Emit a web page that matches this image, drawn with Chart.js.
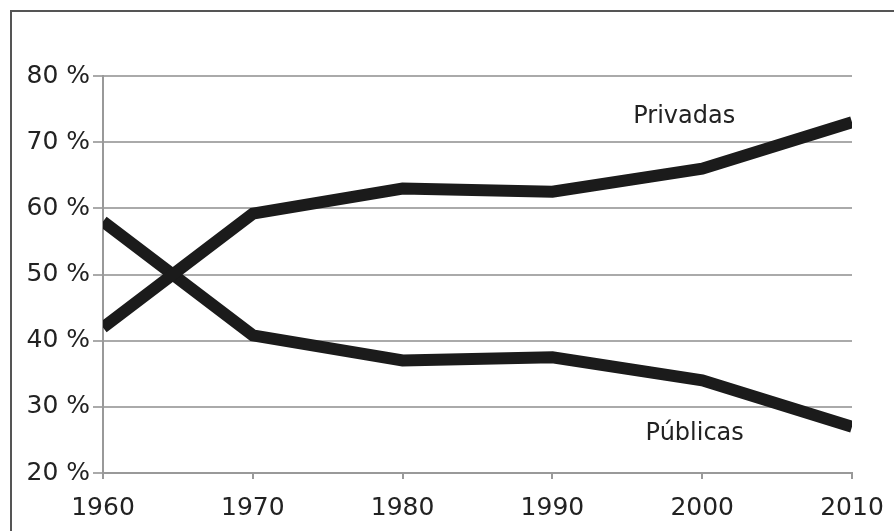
<!DOCTYPE html>
<html>
<head>
<meta charset="utf-8">
<script src="https://cdn.jsdelivr.net/npm/chart.js@4.4.1/dist/chart.umd.min.js"></script>
<style>
  html, body { margin: 0; padding: 0; background: #fff; }
  #wrap { position: relative; width: 894px; height: 531px; overflow: hidden; }
  #frame { position: absolute; left: 10px; top: 10px; width: 900px; height: 540px; border: 2px solid #555; box-sizing: border-box; }
  canvas { position: absolute; left: 0; top: 0; }
</style>
</head>
<body>
<div id="wrap">
  <div id="frame"></div>
  <canvas id="myChart" width="894" height="531"></canvas>
</div>
<script>
const years = [1960, 1970, 1980, 1990, 2000, 2010];
const privadas = [42, 59.2, 63, 62.5, 66, 73];
const publicas = [58, 40.8, 37, 37.5, 34, 27];
const yTicks = [20, 30, 40, 50, 60, 70, 80];

// series names written next to the lines, placed in data units
const seriesLabels = [
  { text: "Privadas", x: 1998.8, y: 73.8 },
  { text: "Públicas", x: 1999.5, y: 25.9 }
];

const fontFamily = "'DejaVu Sans', sans-serif";

const labelPlugin = {
  id: "lineLabels",
  afterDatasetsDraw(chart) {
    const ctx = chart.ctx;
    const xs = chart.scales.x, ys = chart.scales.y;
    ctx.save();
    ctx.font = "24px " + fontFamily;
    ctx.fillStyle = "#222";
    ctx.textAlign = "center";
    ctx.textBaseline = "middle";
    seriesLabels.forEach(l => {
      ctx.fillText(l.text, xs.getPixelForValue(l.x), ys.getPixelForValue(l.y));
    });
    ctx.restore();
  }
};

new Chart("myChart", {
  type: "line",
  data: {
    datasets: [{
      label: "Privadas",
      data: years.map((y, i) => ({ x: y, y: privadas[i] })),
      borderColor: "#1b1b1b",
      borderWidth: 12,
      pointRadius: 0,
      clip: 0,
      fill: false
    }, {
      label: "Públicas",
      data: years.map((y, i) => ({ x: y, y: publicas[i] })),
      borderColor: "#1b1b1b",
      borderWidth: 12,
      pointRadius: 0,
      clip: 0,
      fill: false
    }]
  },
  options: {
    responsive: false,
    animation: false,
    layout: { padding: { top: 76, right: 42, left: 0, bottom: 0 } },
    plugins: { legend: { display: false }, tooltip: { enabled: false } },
    scales: {
      x: {
        type: "linear",
        min: 1960,
        max: 2010,
        afterBuildTicks: s => { s.ticks = years.map(v => ({ value: v })); },
        ticks: {
          font: { family: fontFamily, size: 25 },
          color: "#222",
          padding: 14,
          maxRotation: 0,
          callback: v => String(v)
        },
        grid: { drawOnChartArea: false, drawTicks: true, tickLength: 6, color: "#999", lineWidth: 2 },
        border: { display: true, color: "#999", width: 2 },
        afterFit: s => { s.height = 58; s.paddingLeft = 0; s.paddingRight = 0; }
      },
      y: {
        min: 20,
        max: 80,
        afterBuildTicks: s => { s.ticks = yTicks.map(v => ({ value: v })); },
        ticks: {
          font: { family: fontFamily, size: 25 },
          color: "#222",
          padding: 3,
          callback: v => v + " %"
        },
        grid: { color: "#aaa", lineWidth: 2, tickLength: 10 },
        border: { display: true, color: "#999", width: 2 },
        afterFit: s => { s.width = 103; s.paddingTop = 0; s.paddingBottom = 0; }
      }
    }
  },
  plugins: [labelPlugin]
});
</script>
</body>
</html>
